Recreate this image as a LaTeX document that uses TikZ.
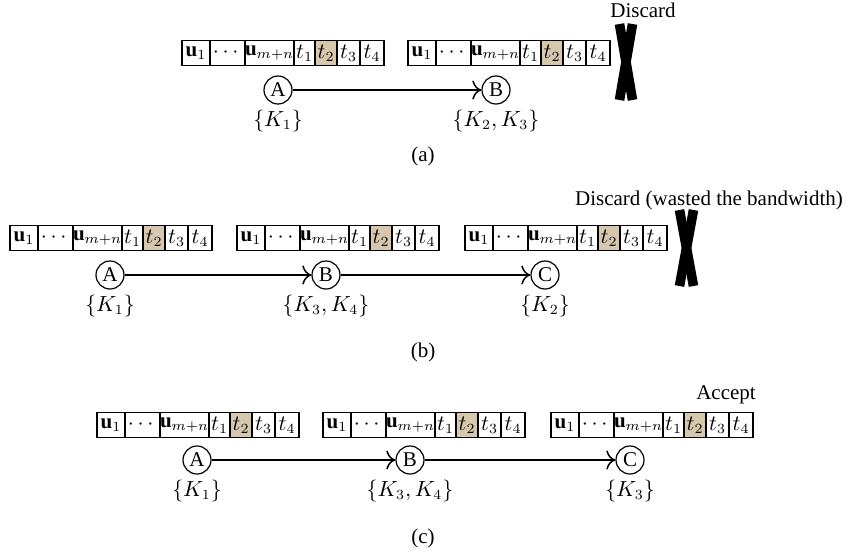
\documentclass[tikz,border=0pt]{standalone}
\usepackage{amsmath}
\usepackage{fontspec}
\setmainfont{Liberation Serif}
\usetikzlibrary{arrows,arrows.meta,positioning}
\definecolor{tanfill}{RGB}{214,199,173}
\tikzset{cell/.style={draw,line width=0.8pt,minimum height=12.5pt,inner sep=0pt,outer sep=0pt,anchor=west}}
\tikzset{station/.style={draw,circle,line width=0.6pt,minimum size=14pt,inner sep=0.5pt}}
\tikzset{link/.style={-{To[scale=1.4]},line width=0.75pt}}
\tikzset{cross/.style={line width=4.8pt}}
\newcommand{\pkt}[3]{%
\node[cell,minimum width=14pt] (#1a) at (#2,#3) {$\mathbf{u}_1$};
\node[cell,minimum width=17.5pt,right=of #1a] (#1b) {$\cdots$};
\node[cell,minimum width=24pt,right=of #1b] (#1c) {$\mathbf{u}_{m+n}$};
\node[cell,minimum width=10.5pt,right=of #1c] (#1d) {$t_1$};
\node[cell,minimum width=11pt,fill=tanfill,right=of #1d] (#1e) {$t_2$};
\node[cell,minimum width=11.5pt,right=of #1e] (#1f) {$t_3$};
\node[cell,minimum width=12pt,right=of #1f] (#1g) {$t_4$};
}

\begin{document}
\begin{tikzpicture}[x=0.5pt,y=-0.5pt,node distance=0pt,font=\fontsize{10.5}{12}\selectfont]
\useasboundingbox (0,0) rectangle (847,552);
% (a)
\pkt{pa1}{182}{53}
\pkt{pa2}{408}{53}
\node[station] (aA) at (278,90) {A};
\node[station] (aB) at (496,90) {B};
\draw[link] (aA) -- (aB);
\node[below=-1pt of aA] (kaA) {$\{K_1\}$};
\node[below=-1pt of aB] (kaB) {$\{K_2,K_3\}$};
\node (capa) at (423,156) {(a)};
\node (disa) at (643,10) {Discard};
\draw[cross] (619.5,24) -- (632.5,100);
\draw[cross] (632.5,24) -- (619.5,100);
% (b)
\pkt{pb1}{10}{238}
\pkt{pb2}{237}{238}
\pkt{pb3}{465}{238}
\node[station] (bA) at (110,275) {A};
\node[station] (bB) at (326,275) {B};
\node[station] (bC) at (545,275) {C};
\draw[link] (bA) -- (bB);
\draw[link] (bB) -- (bC);
\node[below=-1pt of bA] (kbA) {$\{K_1\}$};
\node[below=-1pt of bB] (kbB) {$\{K_3,K_4\}$};
\node[below=-1pt of bC] (kbC) {$\{K_2\}$};
\node (capb) at (423,352) {(b)};
\node (disb) at (709,200) {Discard (wasted the bandwidth)};
\draw[cross] (679.5,210) -- (693.5,286);
\draw[cross] (693.5,210) -- (679.5,286);
% (c)
\pkt{pc1}{97}{425}
\pkt{pc2}{323}{425}
\pkt{pc3}{551}{425}
\node[station] (cA) at (197,460) {A};
\node[station] (cB) at (410,460) {B};
\node[station] (cC) at (630,460) {C};
\draw[link] (cA) -- (cB);
\draw[link] (cB) -- (cC);
\node[below=-1pt of cA] (kcA) {$\{K_1\}$};
\node[below=-1pt of cB] (kcB) {$\{K_3,K_4\}$};
\node[below=-1pt of cC] (kcC) {$\{K_3\}$};
\node (capc) at (423,538) {(c)};
\node (acc) at (726,395) {Accept};
\end{tikzpicture}
\end{document}
